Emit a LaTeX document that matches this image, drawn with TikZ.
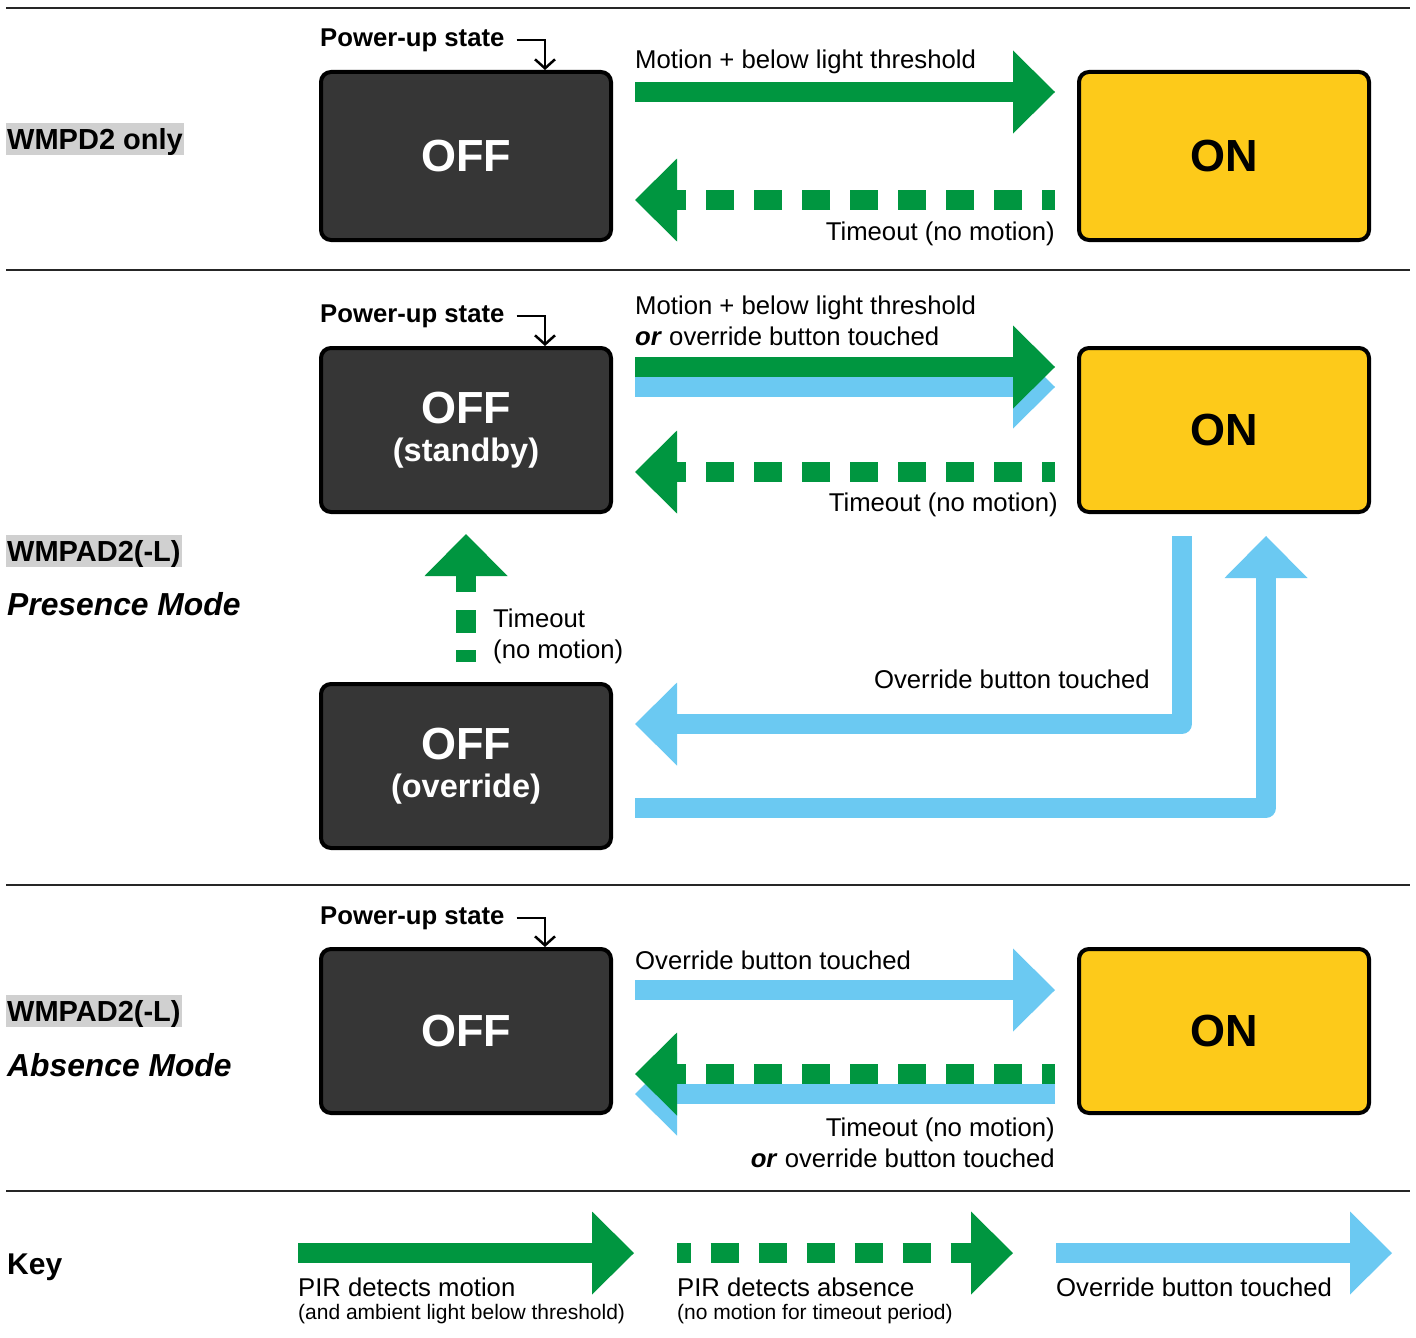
\documentclass[tikz,border=0pt]{standalone}
\usepackage{fontspec}
\setmainfont{Liberation Sans}
\usepackage{tikz}
\usetikzlibrary{arrows.meta, positioning}
\definecolor{wgreen}{HTML}{009640}
\definecolor{wblue}{HTML}{6BC9F2}
\definecolor{wyellow}{HTML}{FDCA1A}
\definecolor{wdark}{HTML}{363636}
\definecolor{wgrey}{HTML}{D0D0D0}
\newcommand\lblfont{\fontsize{25.7}{31}\selectfont}
\newcommand\keyfont{\fontsize{21}{26}\selectfont}
\newcommand\statefont{\fontsize{45}{38}\selectfont\bfseries}
\newcommand\statesub{\fontsize{32.5}{38}\selectfont}
\newcommand\tagfont{\fontsize{29}{34}\selectfont\bfseries}
\newcommand\modefont{\fontsize{31.8}{38}\selectfont\bfseries\itshape}

\begin{document}
\begin{tikzpicture}[x=1pt, y=-1pt,
  offbox/.style={draw=black, line width=4pt, rounded corners=10pt, fill=wdark, text=white,
    minimum width=290pt, minimum height=164pt, align=center, font=\statefont},
  onbox/.style={offbox, fill=wyellow, text=black},
  gap/.style={shorten <=22pt, shorten >=22pt},
  garrow/.style={draw=wgreen, line width=20pt, -{Triangle[length=42pt, width=83pt, line width=0pt]}},
  gdash/.style={garrow, dash pattern=on 28.5pt off 19.5pt, dash phase=15pt},
  barrow/.style={draw=wblue, line width=20pt, line join=round, -{Triangle[length=42pt, width=83pt, line width=0pt]}},
  lbl/.style={font=\lblfont, inner sep=0pt},
  keynote/.style={font=\keyfont, inner sep=0pt},
  pu/.style={font=\lblfont\bfseries, inner sep=0pt},
  puarrow/.style={line width=2.5pt, -{Straight Barb[length=9pt, width=20pt]}},
  tag/.style={fill=wgrey, font=\tagfont, inner xsep=1pt, inner ysep=0pt, text height=26pt, text depth=6pt},
  mode/.style={font=\modefont, inner sep=0pt},
  rule/.style={line width=2.5pt, draw=black!85}]
  \useasboundingbox (0,0) rectangle (1416,1338);

  % WMPD2 only
  \draw[rule] (6,8) -- (1410,8);
  \node[tag, anchor=west] (tag1) at (6,139) {WMPD2 only};
  \node[offbox, minimum height=168pt] (off1) at (466,156) {OFF};
  \node[onbox, minimum height=168pt, right=464pt of off1] (on1) {ON};
  \node[pu, anchor=west] (pu1) at (320,40) {Power-up state};
  \draw[puarrow, shorten <=12pt] (pu1.east) -| ([xshift=-68pt]off1.north east);
  \draw[garrow, gap] ([yshift=64pt]off1.east) -- ([yshift=64pt]on1.west);
  \draw[gdash, gap] ([yshift=-44pt]on1.west) -- ([yshift=-44pt]off1.east);
  \node[lbl, anchor=west] (m1) at (635,62) {Motion + below light threshold};
  \node[lbl, anchor=east] (t1) at (1055,234) {Timeout (no motion)};

  % WMPAD2(-L) presence mode
  \draw[rule] (6,270) -- (1410,270);
  \node[tag, anchor=west] (tag2) at (6,551) {WMPAD2(-L)};
  \node[mode, anchor=west] (mode2) at (7,604) {Presence Mode};
  \node[offbox] (off2) at (466,430) {OFF\\{\statesub (standby)}};
  \node[onbox, right=464pt of off2] (on2) {ON};
  \node[offbox] (offo) at (466,766) {OFF\\{\statesub (override)}};
  \node[pu, anchor=west] (pu2) at (320,316) {Power-up state};
  \draw[puarrow, shorten <=12pt] (pu2.east) -| ([xshift=-68pt]off2.north east);
  \draw[barrow, gap] ([yshift=43pt]off2.east) -- ([yshift=43pt]on2.west);
  \draw[garrow, gap] ([yshift=63pt]off2.east) -- ([yshift=63pt]on2.west);
  \draw[gdash, gap] ([yshift=-42pt]on2.west) -- ([yshift=-42pt]off2.east);
  \node[lbl, anchor=west, align=left] (m2) at (635,321) {Motion + below light threshold\\\textbf{\textit{or}} override button touched};
  \node[lbl, anchor=east] (t2) at (1058,505) {Timeout (no motion)};
  \draw[gdash, shorten <=20pt, shorten >=20pt, dash pattern=on 23pt off 17.5pt, dash phase=11pt] (offo.north) -- (off2.south);
  \node[lbl, anchor=west, align=left] (t3) at (493,636) {Timeout\\(no motion)};
  \draw[barrow, gap] ([xshift=-42pt]on2.south) |- ([yshift=42pt]offo.east);
  \draw[barrow, gap] ([yshift=-42pt]offo.east) -| ([xshift=42pt]on2.south);
  \node[lbl, anchor=east] (o2) at (1150,679) {Override button touched};

  % WMPAD2(-L) absence mode
  \draw[rule] (6,885) -- (1410,885);
  \node[tag, anchor=west] (tag3) at (6,1011) {WMPAD2(-L)};
  \node[mode, anchor=west] (mode3) at (7,1065) {Absence Mode};
  \node[offbox] (off3) at (466,1031) {OFF};
  \node[onbox, right=464pt of off3] (on3) {ON};
  \node[pu, anchor=west] (pu3) at (320,918) {Power-up state};
  \draw[puarrow, shorten <=12pt] (pu3.east) -| ([xshift=-68pt]off3.north east);
  \draw[barrow, gap] ([yshift=41pt]off3.east) -- ([yshift=41pt]on3.west);
  \draw[barrow, gap] ([yshift=-63pt]on3.west) -- ([yshift=-63pt]off3.east);
  \draw[gdash, gap] ([yshift=-43pt]on3.west) -- ([yshift=-43pt]off3.east);
  \node[lbl, anchor=west] (o3) at (635,960) {Override button touched};
  \node[lbl, anchor=east, align=right] (t4) at (1055,1143) {Timeout (no motion)\\\textbf{\textit{or}} override button touched};

  % key
  \draw[rule] (6,1191) -- (1410,1191);
  \node[font=\fontsize{30}{36}\selectfont\bfseries, anchor=west, inner sep=0pt] (key) at (7,1267) {Key};
  \coordinate (k1s) at (298,1253);
  \coordinate (k1e) at (634,1253);
  \coordinate (k2s) at (677,1253);
  \coordinate (k2e) at (1013,1253);
  \coordinate (k3s) at (1056,1253);
  \coordinate (k3e) at (1392,1253);
  \draw[garrow] (k1s) -- (k1e);
  \draw[gdash, dash phase=14.5pt] (k2s) -- (k2e);
  \draw[barrow] (k3s) -- (k3e);
  \node[lbl, anchor=west] (k1) at (298,1287) {PIR detects motion};
  \node[keynote, anchor=west] (k1n) at (298,1314) {(and ambient light below threshold)};
  \node[lbl, anchor=west] (k2) at (677,1287) {PIR detects absence};
  \node[keynote, anchor=west] (k2n) at (677,1314) {(no motion for timeout period)};
  \node[lbl, anchor=west] (k3) at (1056,1287) {Override button touched};
\end{tikzpicture}
\end{document}
